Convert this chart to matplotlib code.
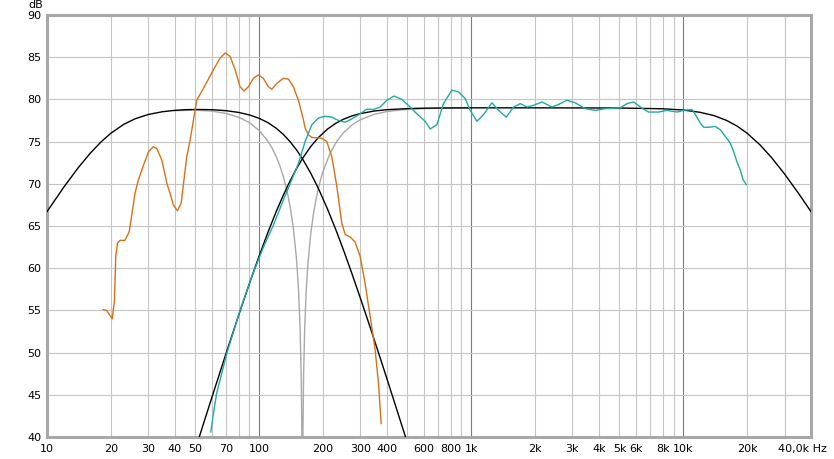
import matplotlib
matplotlib.use("Agg")
import matplotlib.pyplot as plt

# woofer measured response (orange)
woofer_freq = [18.4, 19.1, 20.3, 20.8, 21.1, 21.5, 22.1, 23.3, 24.4, 25.1, 26.0, 27.0, 28.5,
               30.1, 31.7, 32.9, 34.8, 36.7, 38.0, 39.4, 41.2, 42.9, 44.4, 45.6, 47.3, 50.8,
               54.6, 60.9, 65.5, 69.2, 73.0, 77.1, 81.3, 84.9, 89.0, 94.0, 99.3, 104.7, 110.6,
               114.8, 121.2, 130.2, 137.5, 145.1, 153.2, 161.8, 164.8, 170.9, 177.3, 197.5,
               208.5, 220.2, 232.5, 245.6, 254.6, 268.7, 283.6, 299.5, 316, 333.9, 352.5,
               365.4, 376.3]
woofer_db = [55.1, 55.0, 54.0, 56.2, 61.4, 63.0, 63.3, 63.3, 64.3, 66.3, 68.9, 70.5, 72.2,
             73.8, 74.4, 74.2, 72.8, 70.1, 68.9, 67.5, 66.8, 67.7, 70.8, 73.2, 75.2, 79.9,
             81.3, 83.5, 84.9, 85.5, 85.1, 83.5, 81.5, 81.0, 81.5, 82.5, 82.9, 82.5, 81.5,
             81.2, 81.9, 82.5, 82.4, 81.5, 79.9, 77.6, 76.6, 75.8, 75.5, 75.4,
             75.0, 73.2, 69.7, 65.3, 64.0, 63.7, 63.1, 61.4, 58.2, 54.3, 50.3,
             46.4, 41.6]

# tweeter measured response (teal)
tweeter_freq = [59.2, 60.9, 63.1, 65.5, 70.4, 81.3, 92.4, 104.8, 116.8, 130.2, 142.6, 153.2,
                164.8, 177.3, 190.5, 204.8, 220.2, 236.6, 254.6, 273.7, 299.5, 322, 346, 372,
                400, 433, 471, 515, 554, 607, 641, 689, 740, 811, 871, 937, 989, 1064, 1143,
                1253, 1346, 1463, 1585, 1703, 1832, 1969, 2155, 2402, 2582, 2827, 3094, 3450,
                3847, 4290, 5047, 5424, 5834, 6271, 6860, 7651, 8377, 9340, 10035, 10990,
                11400, 12025, 12470, 13160, 14160, 14950, 15790, 16670, 17270, 17910, 18570,
                19130, 19820]
tweeter_db = [40.6, 42.8, 45.2, 46.8, 49.9, 55.0, 59.0, 62.5, 65.1, 68.1, 70.5, 72.4,
              75.0, 77.0, 77.8, 78.0, 77.9, 77.5, 77.3, 77.7, 78.3, 78.85, 78.8, 79.1,
              79.9, 80.4, 80.0, 79.1, 78.3, 77.4, 76.5, 77.0, 79.5, 81.1, 80.9, 80.1, 78.7, 77.4, 78.2,
              79.6, 78.7, 77.9, 79.1, 79.5, 79.1, 79.3, 79.7, 79.1, 79.4, 79.9, 79.6, 78.9,
              78.7, 78.9, 79.0, 79.5, 79.7, 79.1, 78.5, 78.5, 78.7, 78.5, 78.7, 78.8,
              78.2, 77.2, 76.7, 76.7, 76.8, 76.4, 75.6, 74.8, 73.8, 72.6, 71.6,
              70.5, 69.9]

# woofer target (black, left)
low_target_freq = [10, 12, 14, 16, 18, 20, 23, 26, 30, 35, 40, 45, 50, 60, 70, 80, 90, 100,
                   110, 120, 130, 140, 150, 160, 175, 190, 210, 230, 250, 275, 300, 330, 360,
                   400, 440, 490, 520]
low_target_db = [66.70, 69.60, 71.87, 73.63, 74.98, 75.99, 77.04, 77.70, 78.21, 78.54, 78.70,
                 78.78, 78.81, 78.78, 78.66, 78.46, 78.16, 77.76, 77.25, 76.61, 75.86, 74.99,
                 74.03, 72.98, 71.28, 69.49, 67.03, 64.56, 62.15, 59.24, 56.48, 53.38, 50.49,
                 46.95, 43.70, 40.01, 37.97]

# tweeter target (black, right)
high_target_freq = [50, 55, 60, 70, 80, 90, 100, 110, 120, 130, 140, 150, 160, 175, 190, 210,
                    230, 250, 275, 300, 350, 400, 500, 600, 800, 1000, 2000, 5000, 8000,
                    10000, 12000, 14000, 16000, 18000, 20000, 23000, 26000, 30000, 35000, 40000]
high_target_db = [38.51, 41.78, 44.75, 49.97, 54.39, 58.18, 61.44, 64.23, 66.62, 68.64, 70.35,
                  71.79, 72.98, 74.40, 75.46, 76.48, 77.17, 77.65, 78.06, 78.32, 78.63, 78.78,
                  78.91, 78.96, 78.99, 79.0, 79.0, 78.98, 78.89, 78.74, 78.47, 78.07, 77.51,
                  76.81, 75.99, 74.61, 73.14, 71.17, 68.84, 66.70]

# inverted sum (gray, with the null at the crossover)
null_freq = [40, 50, 60, 70, 80, 90, 100, 110, 115, 120, 125, 130, 135, 140, 145, 150, 153,
             156, 158, 159, 160, 161, 162, 164, 167, 170, 175, 180, 185, 190, 195, 200, 215,
             230, 250, 275, 300, 350, 400, 500, 600, 800, 1000]
null_db = [78.67, 78.72, 78.61, 78.33, 77.89, 77.25, 76.32, 75.05, 74.25, 73.31, 72.20, 70.89,
           69.30, 67.33, 64.77, 61.17, 58.01, 53.08, 47.02, 40.97, 20.0, 40.9, 46.9, 52.86,
           57.63, 60.63, 63.98, 66.28, 68.02, 69.39, 70.51, 71.44, 73.49, 74.85, 76.06,
           77.00, 77.59, 78.24, 78.56, 78.82, 78.91, 78.97, 78.99]

grid_freqs = [20, 30, 40, 50, 60, 70, 80, 90, 200, 300, 400, 500, 600, 700, 800, 900,
              2000, 3000, 4000, 5000, 6000, 7000, 8000, 9000, 20000, 30000]
decade_freqs = [100, 1000, 10000]
tick_freqs = [10, 20, 30, 40, 50, 70, 100, 200, 300, 400, 600, 800, 1000, 2000, 3000,
              4000, 5000, 6000, 8000, 10000, 20000]
tick_labels = ["10", "20", "30", "40", "50", "70", "100", "200", "300", "400", "600", "800",
               "1k", "2k", "3k", "4k", "5k", "6k", "8k", "10k", "20k"]
db_ticks = [40, 45, 50, 55, 60, 65, 70, 75, 80, 85, 90]

plt.rcParams['font.family'] = ['DejaVu Sans']
fig = plt.figure(figsize=(8.34, 4.59), dpi=100)
ax = fig.add_axes([47 / 834, 22 / 459, 764 / 834, 422 / 459])
ax.set_xscale('log')
ax.set_xlim(10, 40000)
ax.set_ylim(40, 90)

for f in grid_freqs:
    ax.axvline(f, color='#c4c4c4', lw=0.8, zorder=1)
for f in decade_freqs:
    ax.axvline(f, color='#7c7c7c', lw=0.8, zorder=1)
for d in db_ticks[1:-1]:
    ax.axhline(d, color='#c4c4c4', lw=0.8, zorder=1)

ax.plot(null_freq, null_db, color='#a8a8a8', lw=1.0, zorder=2)
ax.plot(low_target_freq, low_target_db, color='black', lw=1.0, zorder=3)
ax.plot(high_target_freq, high_target_db, color='black', lw=1.0, zorder=3)
ax.plot(woofer_freq, woofer_db, color='#d6711a', lw=1.0, zorder=4)
ax.plot(tweeter_freq, tweeter_db, color='#1faaa6', lw=1.0, zorder=5)

ax.set_xticks(tick_freqs)
ax.set_xticklabels(tick_labels)
ax.xaxis.set_minor_locator(matplotlib.ticker.NullLocator())
ax.set_yticks(db_ticks)
ax.set_yticklabels([str(d) for d in db_ticks])
ax.tick_params(length=0, labelsize=8, colors='black', pad=4)
ax.tick_params(axis='x', pad=5)

for s in ax.spines.values():
    s.set_color('#a8a8a8')
    s.set_linewidth(2.2)

ax.text(1.0 + 16 / 764, -12 / 422, "40,0k Hz", transform=ax.transAxes, ha='right',
        va='center', fontsize=8)
ax.text(-4 / 764, 1.0 + 10 / 422, "dB", transform=ax.transAxes, ha='right', va='center',
        fontsize=8)

fig.savefig("out.png", dpi=100)
